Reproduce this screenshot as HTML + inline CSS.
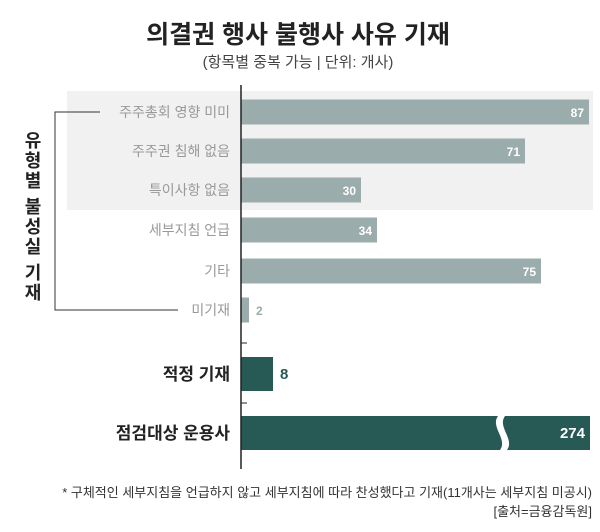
<!DOCTYPE html>
<html><head><meta charset="utf-8"><style>
body{margin:0;background:#fff;}
svg text{font-family:"Liberation Sans","Noto Sans CJK KR",sans-serif;}
</style></head><body>
<svg width="600" height="527" viewBox="0 0 600 527" xmlns="http://www.w3.org/2000/svg">
<text x="298" y="43" text-anchor="middle" font-size="25" font-weight="bold" fill="#222">의결권 행사 불행사 사유 기재</text>
<text x="298" y="67" text-anchor="middle" font-size="15" fill="#444">(항목별 중복 가능 | 단위: 개사)</text>
<rect x="67" y="91" width="526" height="119" fill="#f1f1f1"/>
<g id="bars"></g>
<line x1="241" y1="85" x2="241" y2="469" stroke="#222" stroke-width="1.5"/>
<line x1="241" y1="343" x2="247" y2="343" stroke="#222"/>
<line x1="241" y1="403" x2="247" y2="403" stroke="#222"/>
<polyline points="100,112 55,112 55,310 178,310" fill="none" stroke="#333" stroke-width="1"/>
<g font-size="18" font-weight="bold" fill="#222" text-anchor="middle">
<text x="33" y="147">유</text><text x="33" y="167">형</text><text x="33" y="187">별</text>
<text x="33" y="213">불</text><text x="33" y="233">성</text><text x="33" y="253">실</text>
<text x="33" y="279">기</text><text x="33" y="299">재</text>
</g>
<text x="592" y="497" text-anchor="end" font-size="13" fill="#333">* 구체적인 세부지침을 언급하지 않고 세부지침에 따라 찬성했다고 기재(11개사는 세부지침 미공시)</text>
<text x="592" y="516" text-anchor="end" font-size="13" fill="#333">[출처=금융감독원]</text>
</svg>
<script>
const categories=["주주총회 영향 미미","주주권 침해 없음","특이사항 없음","세부지침 언급","기타","미기재","적정 기재","점검대상 운용사"];
const values=[87,71,30,34,75,2,8,274];
const valueLabels=["87","71","30","34","75","2","8","274"];
const rowCenters=[112,151,190,230,271,310,374,433];
const x0=241, unit=4, maxX=590;
function xScale(v){return Math.min(x0+v*unit,maxX);}
const g=document.getElementById('bars');
const NS='http://www.w3.org/2000/svg';
for(let i=0;i<values.length;i++){
  const dark=i>=6;
  const h=dark?34:25;
  const cy=rowCenters[i];
  const xe=xScale(values[i]);
  const r=document.createElementNS(NS,'rect');
  r.setAttribute('x',x0);r.setAttribute('y',cy-h/2);r.setAttribute('width',xe-x0);r.setAttribute('height',h);
  r.setAttribute('fill',dark?'#275a55':'#9aacab');
  
  
  g.appendChild(r);
  if(x0+values[i]*unit>maxX){
    const b=document.createElementNS(NS,'path');
    b.setAttribute('d',`M498 ${cy-h/2} C490 ${cy-6},508 ${cy+6},500 ${cy+h/2} L507 ${cy+h/2} C515 ${cy+6},497 ${cy-6},505 ${cy-h/2} Z`);
    b.setAttribute('fill','#fff');
    
    
    g.appendChild(b);
  }
  const t=document.createElementNS(NS,'text');
  const inside=values[i]>=20;
  t.setAttribute('x',inside?xe-5:xe+7);
  t.setAttribute('y',cy+5);
  t.setAttribute('text-anchor',inside?'end':'start');
  t.setAttribute('font-size',dark?'15':'12');
  t.setAttribute('font-weight','bold');
  t.setAttribute('fill',inside?'#fff':(dark?'#275a55':'#9aacab'));
  t.textContent=valueLabels[i];
  
  
  g.appendChild(t);
  const l=document.createElementNS(NS,'text');
  l.setAttribute('x',230);
  l.setAttribute('y',cy+(dark?6:5));
  l.setAttribute('text-anchor','end');
  l.setAttribute('font-size',dark?'17':'14');
  if(dark)l.setAttribute('font-weight','bold');
  l.setAttribute('fill',dark?'#222':'#999');
  l.textContent=categories[i];
  
  
  g.appendChild(l);
}
</script>
</body></html>
